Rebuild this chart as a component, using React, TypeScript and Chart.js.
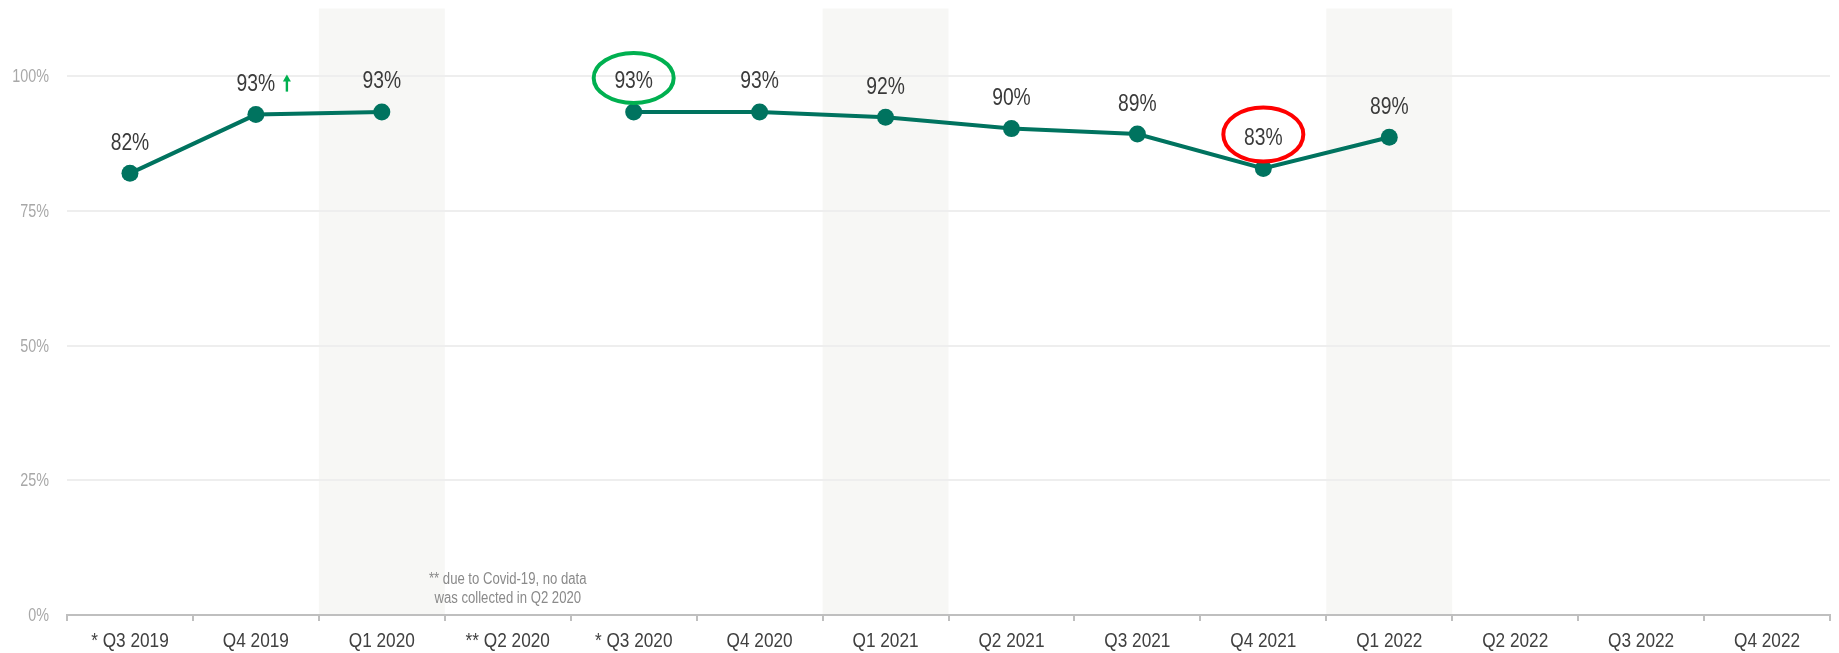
import React, { useEffect, useRef } from "react";
import { Chart, registerables } from "chart.js";

Chart.register(...registerables);

const categories = [
  "* Q3 2019", "Q4 2019", "Q1 2020", "** Q2 2020", "* Q3 2020", "Q4 2020",
  "Q1 2021", "Q2 2021", "Q3 2021", "Q4 2021", "Q1 2022", "Q2 2022", "Q3 2022", "Q4 2022",
];
const scores: (number | null)[] = [82, 92.9, 93.4, null, 93.4, 93.4, 92.4, 90.3, 89.3, 82.9, 88.7, null, null, null];
const shadedIndices = [2, 6, 10];
const yTicks = [0, 25, 50, 75, 100];
const goodIndex = 4;
const badIndex = 9;
const arrowIndex = 1;
const noteLines = ["** due to Covid-19, no data", "was collected in Q2 2020"];
const noteIndex = 3;

const FONT = "'Liberation Sans', Arial, sans-serif";
const NARROW = 0.82;
const LINE = "#00735f";

function narrowText(ctx: CanvasRenderingContext2D, text: string, x: number, y: number, size: number, color: string, align: CanvasTextAlign) {
  ctx.save();
  ctx.translate(x, y);
  ctx.scale(NARROW, 1);
  ctx.font = `${size}px ${FONT}`;
  ctx.fillStyle = color;
  ctx.textAlign = align;
  ctx.textBaseline = "alphabetic";
  ctx.fillText(text, 0, 0);
  ctx.restore();
}

const bandsPlugin = {
  id: "bands",
  beforeDraw(chart: any) {
    const { ctx, chartArea, scales } = chart;
    const x = scales.x;
    const w = (chartArea.right - chartArea.left) / categories.length;
    ctx.save();
    ctx.fillStyle = "#f7f7f5";
    shadedIndices.forEach((i) => {
      const cx = x.getPixelForValue(i);
      ctx.fillRect(cx - w / 2, chartArea.top, w, chartArea.bottom - chartArea.top);
    });
    ctx.restore();
  },
};

const textPlugin = {
  id: "texts",
  afterDraw(chart: any) {
    const { ctx, scales, chartArea } = chart;
    const xs = scales.x;
    const ys = scales.y;
    categories.forEach((c, i) => {
      narrowText(ctx, c, xs.getPixelForValue(i), chartArea.bottom + 32, 21, "#404040", "center");
    });
    yTicks.forEach((v) => {
      narrowText(ctx, `${v}%`, chartArea.left - 18, ys.getPixelForValue(v) + 6, 17.5, "#a8a8a8", "right");
    });
    const meta = chart.getDatasetMeta(0);
    meta.data.forEach((pt: any, i: number) => {
      const v = scores[i];
      if (v == null) return;
      narrowText(ctx, `${Math.round(v)}%`, pt.x, pt.y - 23.5, 23.5, "#3a3a3a", "center");
    });
    ctx.save();
    const drawEllipse = (i: number, color: string, ry: number) => {
      const pt = meta.data[i];
      ctx.beginPath();
      ctx.ellipse(pt.x, pt.y - 34, 40, ry, 0, 0, Math.PI * 2);
      ctx.strokeStyle = color;
      ctx.lineWidth = 4;
      ctx.stroke();
    };
    drawEllipse(goodIndex, "#00b050", 25);
    drawEllipse(badIndex, "#ff0000", 27);
    const ap = meta.data[arrowIndex];
    const ax = ap.x + 31;
    const ay = ap.y - 31;
    ctx.fillStyle = "#00b050";
    ctx.fillRect(ax - 1.2, ay - 3, 2.4, 11);
    ctx.beginPath();
    ctx.moveTo(ax, ay - 9);
    ctx.lineTo(ax - 4, ay - 2);
    ctx.lineTo(ax + 4, ay - 2);
    ctx.closePath();
    ctx.fill();
    ctx.restore();
    const nx = xs.getPixelForValue(noteIndex);
    narrowText(ctx, noteLines[0], nx, chartArea.bottom - 31, 16, "#8a8a8a", "center");
    narrowText(ctx, noteLines[1], nx, chartArea.bottom - 12, 16, "#8a8a8a", "center");
  },
};

export default function App() {
  const ref = useRef<HTMLCanvasElement>(null);
  useEffect(() => {
    document.body.style.margin = "0";
    const chart = new Chart(ref.current!, {
      type: "line",
      data: {
        labels: categories,
        datasets: [
          {
            data: scores,
            borderColor: LINE,
            backgroundColor: LINE,
            borderWidth: 4,
            pointRadius: 8.5,
            pointHoverRadius: 8.5,
            pointBackgroundColor: LINE,
            pointBorderWidth: 0,
            spanGaps: false,
            tension: 0,
          },
        ],
      },
      options: {
        animation: false,
        responsive: false,
        maintainAspectRatio: false,
        layout: { padding: { top: 7, right: 9, left: 0, bottom: 0 } },
        plugins: { legend: { display: false }, tooltip: { enabled: false } },
        scales: {
          x: {
            offset: true,
            grid: {
              display: true,
              drawOnChartArea: false,
              drawTicks: true,
              tickLength: 6,
              color: "#bfbfbf",
              lineWidth: 2,
              offset: true,
            },
            border: { display: true, color: "#bfbfbf", width: 2 },
            ticks: { display: false, autoSkip: false },
            afterFit(scale: any) {
              scale.height = 38;
            },
          },
          y: {
            min: 0,
            max: 112.6,
            afterBuildTicks(scale: any) {
              scale.ticks = yTicks.map((v) => ({ value: v }));
            },
            grid: { color: "#eeeeee", lineWidth: 2, drawTicks: false },
            border: { display: false },
            ticks: { display: false },
            afterFit(scale: any) {
              scale.width = 67;
              scale.paddingTop = 0;
              scale.paddingBottom = 0;
            },
          },
        },
      },
      plugins: [bandsPlugin, textPlugin],
    });
    return () => chart.destroy();
  }, []);
  return <canvas ref={ref} width={1839} height={653} style={{ display: "block" }} />;
}
